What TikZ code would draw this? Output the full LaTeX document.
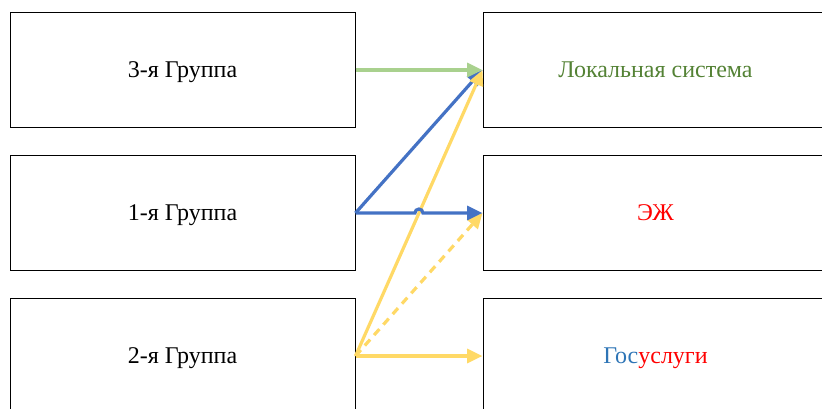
\documentclass[tikz,border=0pt]{standalone}
\usepackage{fontspec}
\setmainfont{Liberation Serif}
\usetikzlibrary{calc,arrows.meta}
\definecolor{lnGreen}{HTML}{A9D18E}
\definecolor{lnBlue}{HTML}{4472C4}
\definecolor{lnYellow}{HTML}{FFD966}
\definecolor{txtGreen}{HTML}{548235}
\definecolor{txtBlue}{HTML}{2E75B6}
\begin{document}
\begin{tikzpicture}[x=0.75pt,y=-0.75pt,
    box/.style={draw, line width=0.75pt, minimum width=258.75pt, minimum height=86.25pt,
                inner sep=0pt, text depth=0pt, font=\fontsize{18}{21}\selectfont},
    link/.style={line width=2.4pt, -{Triangle[length=11.5pt,width=10.5pt]}}]
    \useasboundingbox (0,0) rectangle (822,408);
    \clip (0,0) rectangle (822,408);

    \node (g3) at (182.5,70) [box] {3-я Группа};
    \node (g1) at (182.5,213) [box] {1-я Группа};
    \node (g2) at (182.5,356) [box] {2-я Группа};

    \node (loc) at (655.5,70) [box, text=txtGreen] {Локальная система};
    \node (ezh) at (655.5,213) [box, text=red] {ЭЖ};
    \node (gos) at (655.5,356) [box] {\textcolor{txtBlue}{Гос}\textcolor{red}{услуги}};

    \draw [link, lnBlue] (g1.east) -- (loc.west);
    \draw [link, lnYellow] (g2.east) -- (loc.west);
    \draw [link, lnYellow, dash pattern=on 6pt off 4.5pt] (g2.east) -- (ezh.west);
    \draw [link, lnYellow] (g2.east) -- (gos.west);

    % hop over the yellow line
    \coordinate (hop) at ($(g1.east)!0.51!(ezh.west)$);
    \draw [link, lnBlue] (g1.east) -- ([xshift=-4]hop) arc (180:360:4) -- (ezh.west);
    \draw [link, lnGreen] (g3.east) -- (loc.west);
\end{tikzpicture}
\end{document}
